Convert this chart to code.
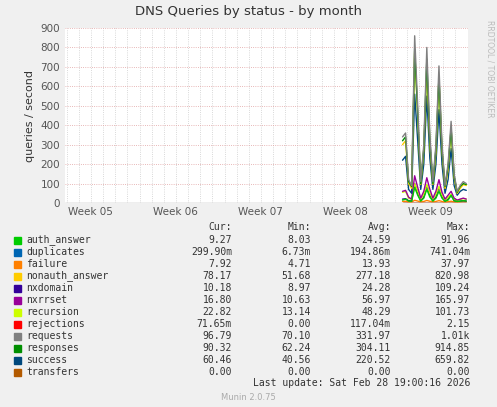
import numpy as np, pandas as pd, seaborn as sns, matplotlib
matplotlib.use("Agg")
import matplotlib.pyplot as plt

sns.set_style("white")
plt.rcParams['font.family'] = ['DejaVu Sans']

week_pos = [5, 6, 7, 8, 9]
week_labels = ["Week 05", "Week 06", "Week 07", "Week 08", "Week 09"]
t = list(np.round(8.67 + np.arange(22) * 0.0357, 4))
requests  = [340,360,120,90,860,500,110,300,800,350,110,300,705,300,90,200,420,150,60,90,110,100]
responses = [320,340,110,85,790,460,100,280,740,320,100,280,650,280,85,185,385,140,55,85,100,95]
nonauth   = [300,320,100,75,780,450,95,270,700,300,95,260,640,270,75,170,380,130,50,75,95,90]
auth      = [15,20,10,9,80,40,10,25,70,30,10,25,60,25,9,15,40,12,8,10,12,10]
success   = [220,240,70,50,560,320,70,200,550,230,70,200,480,200,50,120,280,90,40,60,70,65]
nxrrset   = [60,65,30,20,140,80,25,60,130,70,25,60,120,55,20,40,60,25,15,20,25,20]
recursion = [55,60,25,18,100,60,20,45,95,50,20,45,85,40,15,30,45,20,13,18,23,20]
nxdomain  = [20,22,12,10,100,50,12,30,90,40,12,30,80,30,10,20,40,12,9,10,12,10]
failure   = [8,9,6,5,14,10,6,8,13,9,6,8,12,8,5,7,9,6,5,6,8,7]
zeros     = [0]*22

series = [
 ("auth_answer", "#00CC00", auth), ("duplicates", "#0066B3", zeros),
 ("failure", "#FF8000", failure), ("nonauth_answer", "#FFCC00", nonauth),
 ("nxdomain", "#330099", nxdomain), ("nxrrset", "#990099", nxrrset),
 ("recursion", "#CCFF00", recursion), ("rejections", "#FF0000", zeros),
 ("requests", "#808080", requests), ("responses", "#008F00", responses),
 ("success", "#00487D", success), ("transfers", "#B35A00", zeros)]
stats = [("9.27","8.03","24.59","91.96"),("299.90m","6.73m","194.86m","741.04m"),
 ("7.92","4.71","13.93","37.97"),("78.17","51.68","277.18","820.98"),
 ("10.18","8.97","24.28","109.24"),("16.80","10.63","56.97","165.97"),
 ("22.82","13.14","48.29","101.73"),("71.65m","0.00","117.04m","2.15"),
 ("96.79","70.10","331.97","1.01k"),("90.32","62.24","304.11","914.85"),
 ("60.46","40.56","220.52","659.82"),("0.00","0.00","0.00","0.00")]

fig = plt.figure(figsize=(4.97, 4.07), dpi=100, facecolor="#F0F0F0")
ax = fig.add_axes([65/497, 1-203/407, 403/497, 175/407])
ax.set_facecolor("white")
order = [1, 7, 11, 2, 4, 6, 5, 0, 10, 3, 9, 8]
for i in order:
    name, c, v = series[i]
    sns.lineplot(x=t, y=v, color=c, lw=1, ax=ax)
ax.set_xlim(4.7, 9.44)
ax.set_ylim(0, 900)
ax.set_yticks(range(0, 901, 100))
ax.set_xticks(week_pos)
ax.set_xticklabels(week_labels, fontsize=7.5, color="#555")
ax.tick_params(axis='y', labelsize=7.5, colors="#555", length=0)
ax.tick_params(axis='x', length=0, pad=3)
ax.set_xticks(np.arange(4.72, 9.44, 1/7), minor=True)
ax.grid(axis='y', color="#E0A0A0", ls=":", lw=0.6)
ax.grid(axis='x', which='minor', color="#CCCCCC", ls=":", lw=0.6)
for s in ax.spines.values(): s.set_visible(False)
ax.axhline(0, color="#AAAAAA", lw=1)
ax.set_ylabel("queries / second", fontsize=8, color="#333")
fig.text(0.5, 1-12/407, "DNS Queries by status - by month", ha="center", va="center", fontsize=9.5, color="#333")
fig.text(0.985, 0.83, "RRDTOOL / TOBI OETIKER", rotation=270, fontsize=5.5, color="#BBB", ha="center", va="center")

mono = dict(family="DejaVu Sans Mono", fontsize=7, color="#333")
y0 = 1-240/407; dy = 12/407
for hdr, x in zip(["Cur:", "Min:", "Avg:", "Max:"], [232, 311, 391, 470]):
    fig.text(x/497, 1-227/407, hdr, ha="right", va="center", **mono)
for k, (name, c, v) in enumerate(series):
    y = y0 - k*dy
    fig.patches.append(plt.Rectangle((14/497, y-3.5/407), 7/497, 7/407, color=c, transform=fig.transFigure))
    fig.text(26/497, y, name, va="center", **mono)
    for j, x in enumerate([232, 311, 391, 470]):
        fig.text(x/497, y, stats[k][j], ha="right", va="center", **mono)
fig.text(470/497, 1-383/407, "Last update: Sat Feb 28 19:00:16 2026", ha="right", va="center", **mono)
fig.text(0.5, 1-397/407, "Munin 2.0.75", ha="center", va="center", fontsize=6, color="#AAA")
fig.savefig("out.png", dpi=100, facecolor=fig.get_facecolor())
